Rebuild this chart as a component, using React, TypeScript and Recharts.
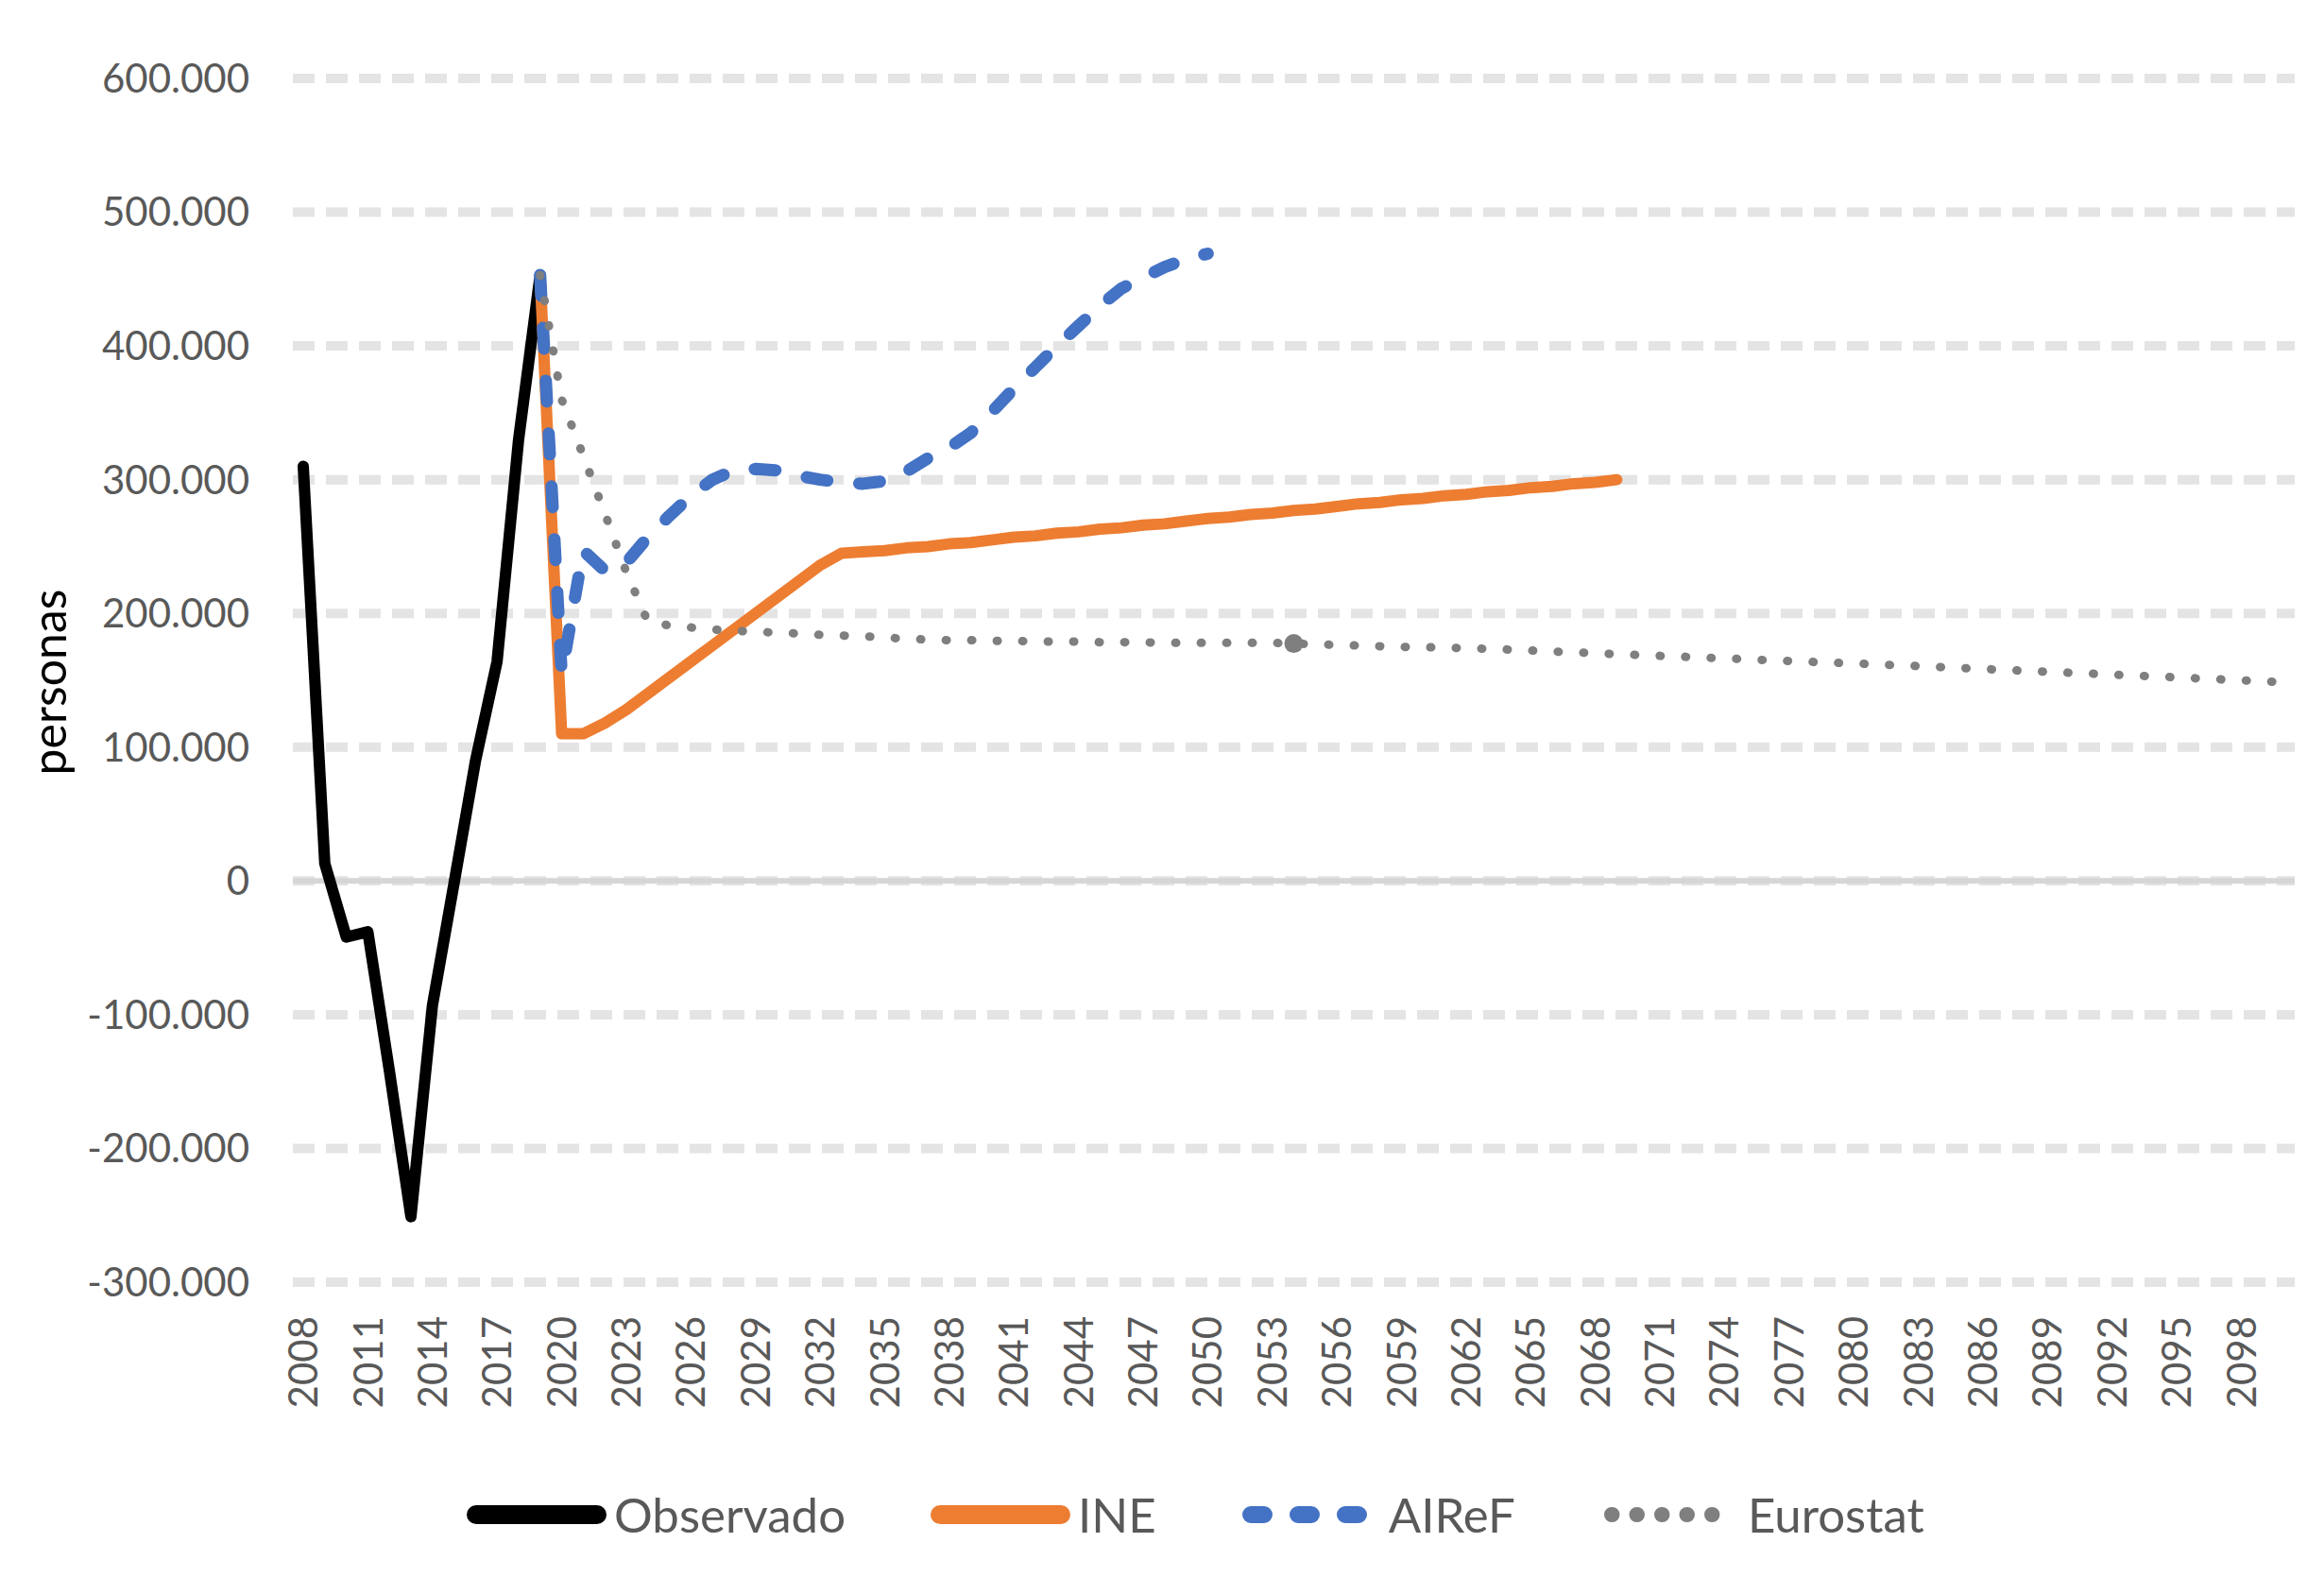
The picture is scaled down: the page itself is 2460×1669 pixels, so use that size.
import { LineChart, Line, XAxis, YAxis, CartesianGrid, ReferenceLine, Legend } from "recharts";

const FONT = "Lato, 'Open Sans', sans-serif";
const TEXT = "#595959";

// years on the category axis
const YEARS = Array.from({ length: 93 }, (_, i) => 2008 + i);
const Y_TICKS = [-300000, -200000, -100000, 0, 100000, 200000, 300000, 400000, 500000, 600000];

// values in thousands of persons
const OBSERVADO_FROM = 2008;
const OBSERVADO = [310, 13, -42, -38, -142, -251, -93, -2, 90, 164, 330, 453];

const INE_FROM = 2019;
const INE = [
  453, 110, 110, 118, 128, 140, 152, 164, 176, 188, 200, 212, 224, 236, 245,
  246, 247, 249, 250, 252, 253, 255, 257, 258, 260, 261, 263, 264, 266, 267,
  269, 271, 272, 274, 275, 277, 278, 280, 282, 283, 285, 286, 288, 289, 291,
  292, 294, 295, 297, 298, 300,
];

const AIREF_FROM = 2019;
const AIREF = [
  453, 155, 247, 232, 238, 257, 273, 288, 300, 307, 308, 307, 303, 300, 298,
  297, 299, 306, 316, 324, 335, 351, 368, 384, 400, 415, 430, 443, 451, 459,
  465, 469,
];

const EUROSTAT_FROM = 2019;
const EUROSTAT = [
  453, 360, 318, 275, 231, 194, 191, 189.5, 188, 187, 186.5, 185.5, 185, 184, 183.5,
  183, 182, 181, 180.5, 180, 180, 179.5, 179.5, 179, 179, 179, 178.5, 178.5, 178.5, 178,
  178, 178, 178, 178, 178, 177.5, 177, 176.5, 176, 175.5, 175, 174.8, 174.5, 174, 173.5,
  173, 172.3, 171.5, 171, 170.3, 169.6, 169, 168.3, 167.7, 167, 166.4, 165.8, 165, 164.5, 163.8,
  163.2, 162.6, 162, 161.3, 160.6, 159.9, 159.2, 158.5, 157.8, 157.1, 156.4, 155.7, 155, 154.3, 153.6,
  152.9, 152.2, 151.4, 150.7, 150, 149.3, 148.6,
];
const EUROSTAT_MARK_YEAR = 2054;

const pick = (arr: number[], from: number, year: number) => {
  const i = year - from;
  return i >= 0 && i < arr.length ? arr[i] * 1000 : null;
};

const rows = YEARS.map((year) => ({
  year,
  observado: pick(OBSERVADO, OBSERVADO_FROM, year),
  ine: pick(INE, INE_FROM, year),
  airef: pick(AIREF, AIREF_FROM, year),
  eurostat: pick(EUROSTAT, EUROSTAT_FROM, year),
}));

const SERIES = [
  { key: "observado", name: "Observado", color: "#000000", width: 12, dash: undefined as string | undefined },
  { key: "ine", name: "INE", color: "#ED7D31", width: 12, dash: undefined },
  { key: "airef", name: "AIReF", color: "#4472C4", width: 13, dash: "22 34" },
  { key: "eurostat", name: "Eurostat", color: "#7F7F7F", width: 9, dash: "1 26" },
];

const fmt = (v: number) => {
  if (v === 0) return "0";
  return (v < 0 ? "-" : "") + Math.abs(v / 1000) + ".000";
};

function YearTick({ x, y, payload }: any) {
  return (
    <g transform={`translate(${x},${y})`}>
      <text transform="rotate(-90)" textAnchor="end" dy="0.36em" fill={TEXT} fontSize={42} fontFamily={FONT}>
        {payload.value}
      </text>
    </g>
  );
}

function EuroDot(props: any) {
  const { cx, cy, payload, index } = props;
  if (payload?.year !== EUROSTAT_MARK_YEAR) return <g key={`d${index}`} />;
  return <circle key={`d${index}`} cx={cx} cy={cy} r={10} fill="#7F7F7F" />;
}

function Sample({ s }: { s: (typeof SERIES)[number] }) {
  if (s.key === "eurostat") {
    return (
      <svg width={148} height={30}>
        <line x1={12} y1={15} x2={122} y2={15} stroke={s.color} strokeWidth={16} strokeLinecap="round" strokeDasharray="0.5 26" />
      </svg>
    );
  }
  return (
    <svg width={148} height={30}>
      <line
        x1={10}
        y1={15}
        x2={138}
        y2={15}
        stroke={s.color}
        strokeWidth={s.key === "airef" ? 18 : 20}
        strokeLinecap="round"
        strokeDasharray={s.key === "airef" ? "14 36" : undefined}
      />
    </svg>
  );
}

function LegendBox() {
  return (
    <div style={{ height: 80, display: "flex", alignItems: "center", paddingLeft: 494, fontFamily: FONT, fontSize: 51, color: TEXT }}>
      {SERIES.map((s) => (
        <div key={s.key} style={{ display: "flex", alignItems: "center", marginRight: 90 }}>
          <Sample s={s} />
          <span style={{ marginLeft: 8, lineHeight: "80px" }}>{s.name}</span>
        </div>
      ))}
    </div>
  );
}

export default function App() {
  return (
    <div style={{ width: 2460, height: 1669, background: "#fff" }}>
      <style>{"body{margin:0}"}</style>
      <LineChart width={2460} height={1669} data={rows} margin={{ top: 83, right: 31, left: 0, bottom: 26 }}>
        <CartesianGrid vertical={false} stroke="#E4E4E4" strokeWidth={10} strokeDasharray="23 12" />
        <ReferenceLine y={0} stroke="#D6D6D6" strokeWidth={6} />
        <XAxis
          dataKey="year"
          interval={2}
          padding={{ left: 11, right: 11 }}
          tick={<YearTick />}
          tickLine={false}
          axisLine={false}
          tickSize={0}
          tickMargin={36}
          height={206}
        />
        <YAxis
          domain={[-300000, 600000]}
          ticks={Y_TICKS}
          interval={0}
          tickFormatter={fmt}
          width={310}
          tickLine={false}
          axisLine={false}
          tickSize={0}
          tickMargin={46}
          tick={{ fill: TEXT, fontSize: 42, fontFamily: FONT }}
          label={{
            content: () => (
              <text transform="translate(70,722) rotate(-90)" textAnchor="middle" fill="#000" fontSize={50} fontFamily={FONT}>
                personas
              </text>
            ),
          }}
        />
        {SERIES.map((s) => (
          <Line
            key={s.key}
            type="linear"
            dataKey={s.key}
            name={s.name}
            stroke={s.color}
            strokeWidth={s.width}
            strokeDasharray={s.dash}
            strokeLinecap="round"
            strokeLinejoin="round"
            dot={s.key === "eurostat" ? EuroDot : false}
            activeDot={false}
            isAnimationActive={false}
          />
        ))}
        <Legend verticalAlign="bottom" content={<LegendBox />} wrapperStyle={{ left: 0, width: 2460, height: 80 }} />
      </LineChart>
    </div>
  );
}
